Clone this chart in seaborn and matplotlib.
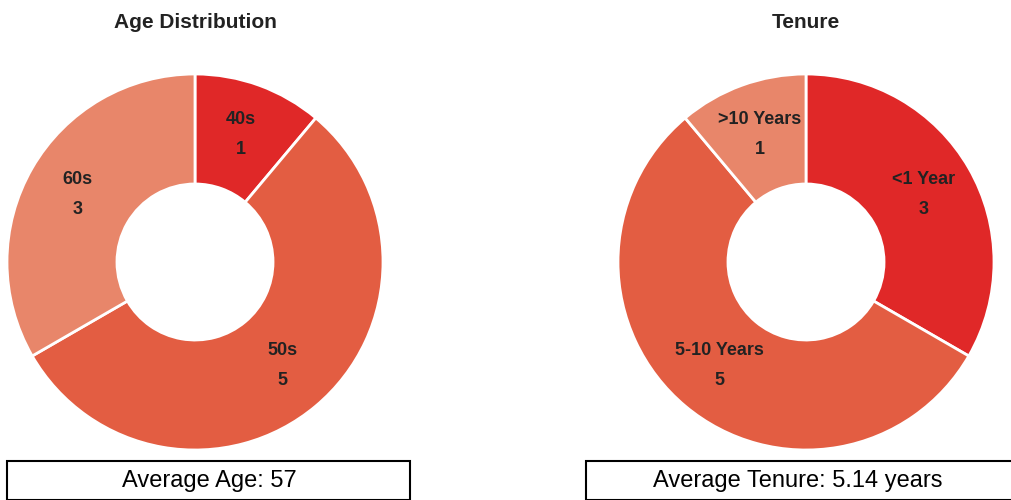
import matplotlib
matplotlib.use("Agg")
import matplotlib.pyplot as plt
from matplotlib.patches import Rectangle
import seaborn as sns

age_labels = ["40s", "50s", "60s"]
age_counts = [1, 5, 3]
tenure_labels = ["<1 Year", "5-10 Years", ">10 Years"]
tenure_counts = [3, 5, 1]
avg_age_text = "Average Age: 57"
avg_tenure_text = "Average Tenure: 5.14 years"

colors = ["#e02828", "#e35d42", "#e8866a"]

sns.set_style("white")
plt.rcParams['font.family'] = ['Liberation Sans', 'DejaVu Sans']

W, H = 1011, 500
fig = plt.figure(figsize=(W / 100, H / 100), dpi=100)


def donut(cx, cy, r, labels, counts, title):
    ax = fig.add_axes([(cx - r) / W, (H - cy - r) / H, 2 * r / W, 2 * r / H])
    wedges, texts = ax.pie(counts, colors=colors, startangle=90, counterclock=False,
                           labels=[f"{l}\n\n{c}" for l, c in zip(labels, counts)],
                           labeldistance=0.72, radius=1,
                           wedgeprops=dict(width=0.585, edgecolor="white", linewidth=2),
                           textprops=dict(fontsize=13, fontweight="bold", color="#222222",
                                          ha="center", va="center", linespacing=0.85))
    ax.set_xlim(-1, 1)
    ax.set_ylim(-1, 1)
    ax.set_aspect("equal")
    ax.axis("off")
    fig.text(cx / W, 1 - 22 / H, title, ha="center", va="center",
             fontsize=15, fontweight="bold", color="#222222")


donut(195, 262, 188, age_labels, age_counts, "Age Distribution")
donut(806, 262, 188, tenure_labels, tenure_counts, "Tenure")

# summary boxes
for x0, x1, cx, txt in [(7, 410, 209, avg_age_text), (586, 1015, 798, avg_tenure_text)]:
    fig.add_artist(Rectangle((x0 / W, 0), (x1 - x0) / W, (H - 461) / H,
                             transform=fig.transFigure, fill=False,
                             edgecolor="black", linewidth=1.5, clip_on=False))
    fig.text(cx / W, 1 - 481 / H, txt, ha="center", va="center",
             fontsize=17, color="black",
             family=['Liberation Sans Narrow', 'Liberation Sans', 'DejaVu Sans'])

fig.savefig("out.png", dpi=100)
